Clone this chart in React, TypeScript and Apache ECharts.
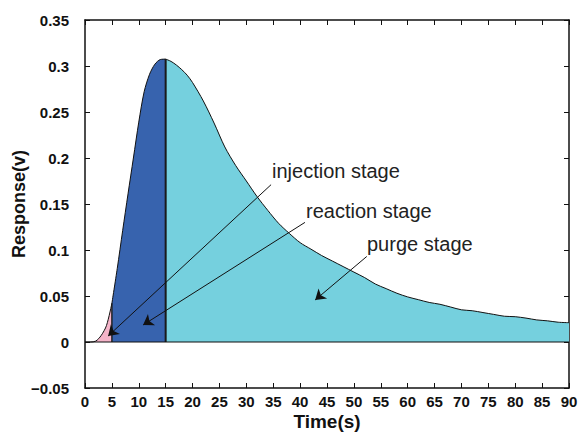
import React, { useEffect, useRef } from "react";
import * as echarts from "echarts";

// Time (s) and response (V)
const times = [0, 1, 2, 3, 4, 5, 6, 7, 8, 9, 10, 11, 12, 13, 14, 15, 16, 17, 18, 19, 20, 22, 24, 26, 28, 30, 32, 34, 36, 38, 40, 42, 44, 46, 48, 50, 52, 54, 56, 58, 60, 62, 64, 66, 68, 70, 72, 74, 76, 78, 80, 82, 84, 86, 88, 90];
const response = [0, 0, 0.001, 0.007, 0.018, 0.042, 0.08, 0.121, 0.161, 0.2, 0.239, 0.272, 0.291, 0.302, 0.307, 0.3075, 0.305, 0.301, 0.296, 0.29, 0.282, 0.262, 0.238, 0.212, 0.192, 0.175, 0.158, 0.143, 0.129, 0.118, 0.108, 0.101, 0.094, 0.088, 0.082, 0.076, 0.07, 0.063, 0.058, 0.053, 0.049, 0.046, 0.043, 0.041, 0.038, 0.035, 0.034, 0.032, 0.03, 0.028, 0.0275, 0.026, 0.024, 0.023, 0.0215, 0.021];

// Stage boundaries (s)
const stageStarts = [0, 5, 15];
const stageEnds = [5, 15, 90];
const stageNames = ["injection stage", "reaction stage", "purge stage"];
const stageColors = ["#f5b4c9", "#3763ae", "#75d0de"];

// Annotation arrows: [fromTime, fromValue] -> [toTime, toValue]
const arrowFrom = [[34.6, 0.171], [40.9, 0.13], [52.4, 0.093]];
const arrowTo = [[4.3, 0.0065], [10.8, 0.0185], [42.8, 0.0457]];

const xTicks = { min: 0, max: 90, interval: 5 };
const yTicks = { min: -0.05, max: 0.35, interval: 0.05 };

const FONT = "'Liberation Sans', Arial, Helvetica, sans-serif";

export default function App() {
  const ref = useRef<HTMLDivElement>(null);
  useEffect(() => {
    if (!ref.current) return;
    const chart = echarts.init(ref.current, undefined, { renderer: "svg" });
    const pts = times.map((t, i) => [t, response[i]]);
    const valueAt = (t: number) => response[times.indexOf(t)];

    const areaSeries = stageStarts.map((s, k) => ({
      type: "line",
      name: stageNames[k],
      data: pts.filter((p) => p[0] >= s && p[0] <= stageEnds[k]),
      smooth: 0.3,
      showSymbol: false,
      symbol: "none",
      lineStyle: { color: "#111", width: 1 },
      areaStyle: { color: stageColors[k], opacity: 1 },
      z: 2,
    }));

    const vLines = [5, 15].map((t, i) => ({
      type: "line",
      data: [[t, 0], [t, valueAt(t)]],
      symbol: "none",
      lineStyle: { color: "#1a1a1a", width: i === 0 ? 1.4 : 2 },
      z: 3,
    }));

    const zeroLine = {
      type: "line",
      data: [[xTicks.min, 0], [xTicks.max, 0]],
      symbol: "none",
      lineStyle: { color: "#111", width: 1 },
      z: 3,
      markLine: {
        silent: true,
        symbol: ["none", "arrow"],
        symbolSize: 10,
        precision: 4,
        label: { show: false },
        emphasis: { disabled: true },
        lineStyle: { color: "#111", width: 1, type: "solid" },
        data: arrowFrom.map((f, i) => [{ coord: f }, { coord: arrowTo[i] }]),
      },
    };

    const textPos = [
      { left: 272, top: 161 },
      { left: 306, top: 201 },
      { left: 367, top: 234 },
    ];

    chart.setOption({
      animation: false,
      backgroundColor: "#fff",
      grid: { left: 85, right: 10, top: 20, bottom: 45, containLabel: false, outerBoundsMode: "none" },
      xAxis: [
        {
          type: "value",
          ...xTicks,
          name: "Time(s)",
          nameLocation: "middle",
          nameGap: 24,
          nameMoveOverlap: false,
          nameTextStyle: { color: "#111", fontSize: 19, fontWeight: "bold", fontFamily: FONT },
          axisLine: { onZero: false, lineStyle: { color: "#111", width: 1.5 } },
          axisTick: { inside: true, length: 5, lineStyle: { color: "#111" } },
          axisLabel: { color: "#111", fontSize: 15, fontWeight: "bold", fontFamily: FONT, margin: 6 },
          splitLine: { show: false },
        },
        {
          type: "value",
          ...xTicks,
          position: "top",
          axisLine: { onZero: false, lineStyle: { color: "#111", width: 1.5 } },
          axisTick: { inside: true, length: 5, lineStyle: { color: "#111" } },
          axisLabel: { show: false },
          splitLine: { show: false },
        },
      ],
      yAxis: [
        {
          type: "value",
          ...yTicks,
          name: "Response(v)",
          nameLocation: "middle",
          nameGap: 57,
          nameMoveOverlap: false,
          nameTextStyle: { color: "#111", fontSize: 18, fontWeight: "bold", fontFamily: FONT },
          axisLine: { onZero: false, lineStyle: { color: "#111", width: 1.5 } },
          axisTick: { inside: true, length: 5, lineStyle: { color: "#111" } },
          axisLabel: {
            color: "#111",
            fontSize: 15,
            fontWeight: "bold",
            fontFamily: FONT,
            margin: 16,
            formatter: (v: number) => {
              const r = Math.round(v * 100) / 100;
              return r === 0 ? "0" : String(r).replace("-", "\u2212");
            },
          },
          splitLine: { show: false },
        },
        {
          type: "value",
          ...yTicks,
          position: "right",
          axisLine: { onZero: false, lineStyle: { color: "#111", width: 1.5 } },
          axisTick: { inside: true, length: 5, lineStyle: { color: "#111" } },
          axisLabel: { show: false },
          splitLine: { show: false },
        },
      ],
      graphic: stageNames.map((n, i) => ({
        type: "text",
        left: textPos[i].left,
        top: textPos[i].top,
        z: 10,
        style: { text: n, fill: "#222", fontSize: 20, fontFamily: FONT },
      })),
      series: [...areaSeries, ...vLines, zeroLine],
    });
    return () => chart.dispose();
  }, []);
  return <div ref={ref} style={{ position: "fixed", left: 0, top: 0, width: 579, height: 433 }} />;
}
